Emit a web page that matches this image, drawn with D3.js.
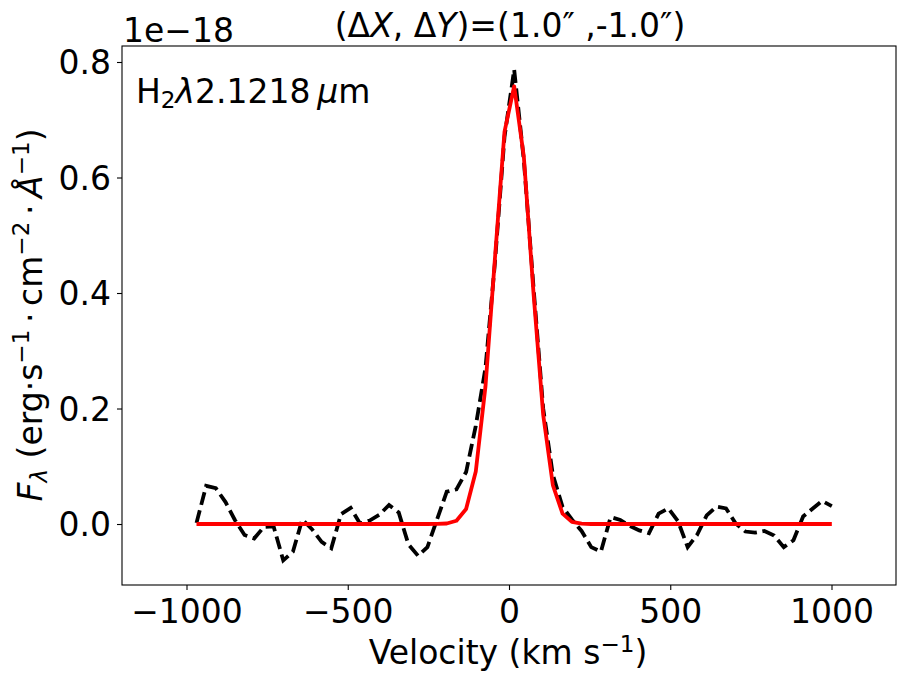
<!DOCTYPE html>
<html>
<head>
<meta charset="utf-8">
<script src="https://cdn.jsdelivr.net/npm/d3@7"></script>
<style>
  html, body { margin: 0; padding: 0; background: #fff; }
  svg { display: block; font-family: "DejaVu Sans", sans-serif; }
</style>
</head>
<body>
<svg id="chart" width="909" height="685"></svg>
<script>
// ---- data ----
const velocity = [-969, -939, -909, -879, -850, -820, -790, -760, -730, -700,
  -670, -641, -611, -581, -551, -521, -491, -462, -432, -402,
  -372, -342, -312, -282, -253, -223, -193, -163, -133, -103,
  -73, -44, -14, 16, 46, 76, 106, 136, 166, 195,
  225, 255, 285, 315, 345, 374, 404, 434, 464, 494,
  524, 554, 583, 613, 643, 673, 703, 733, 763, 792,
  822, 852, 882, 912, 942, 971, 1001];

const observed = [0.002, 0.066, 0.062, 0.038, 0.007, -0.019, -0.025, -0.005, -0.004, -0.063,
  -0.048, 0.008, -0.009, -0.031, -0.042, 0.017, 0.028, 0.001, 0.006, 0.016,
  0.033, 0.020, -0.035, -0.055, -0.040, 0.008, 0.056, 0.060, 0.090, 0.170,
  0.270, 0.450, 0.670, 0.787, 0.630, 0.410, 0.200, 0.085, 0.030, 0.008,
  -0.012, -0.040, -0.048, 0.012, 0.007, -0.003, -0.011, -0.016, 0.018, 0.027,
  0.005, -0.040, -0.019, 0.015, 0.030, 0.027, 0.001, -0.013, -0.015, -0.012,
  -0.020, -0.040, -0.028, 0.013, 0.027, 0.040, 0.031];

const model = [0, 0, 0, 0, 0, 0, 0, 0, 0, 0,
  0, 0, 0, 0, 0, 0, 0, 0, 0, 0,
  0, 0, 0, 0, 0, 0.0001, 0.0009, 0.0057, 0.026, 0.091,
  0.238, 0.457, 0.679, 0.758, 0.636, 0.400, 0.189, 0.0675, 0.018, 0.0038,
  0.0006, 0, 0, 0, 0, 0, 0, 0, 0, 0,
  0, 0, 0, 0, 0, 0, 0, 0, 0, 0,
  0, 0, 0, 0, 0, 0, 0];

const xTicks = [-1000, -500, 0, 500, 1000];
const yTicks = [0.0, 0.2, 0.4, 0.6, 0.8];
const xDomain = [-1200, 1200];
const yDomain = [-0.1056, 0.8277];

// ---- layout ----
const L = 122, R = 896, T = 46, B = 585;
const FS = 33;
const svg = d3.select("#chart");

const x = d3.scaleLinear().domain(xDomain).range([L, R]);
const y = d3.scaleLinear().domain(yDomain).range([B, T]);

const minus = s => s.replace("-", "\u2212");

// axes
const xAxis = d3.axisBottom(x).tickValues(xTicks).tickSize(5).tickPadding(5)
  .tickFormat(d => minus(d3.format("d")(d)));
const yAxis = d3.axisLeft(y).tickValues(yTicks).tickSize(5).tickPadding(6)
  .tickFormat(d => d3.format(".1f")(d));

const gx = svg.append("g").attr("transform", `translate(0,${B})`).call(xAxis);
const gy = svg.append("g").attr("transform", `translate(${L},0)`).call(yAxis);
[gx, gy].forEach(g => {
  g.select(".domain").remove();
  g.selectAll("line").attr("stroke", "#000").attr("stroke-width", 1.1);
  g.selectAll("text").attr("font-size", FS).attr("font-family", "DejaVu Sans").attr("fill", "#000");
});
gx.selectAll("text").attr("dy", null).attr("y", 38);
gy.selectAll("text").attr("dy", "0.36em");

// lines
const lineGen = arr => d3.line().x((d, i) => x(velocity[i])).y(d => y(d))(arr);

svg.append("clipPath").attr("id", "clip")
  .append("rect").attr("x", L).attr("y", T).attr("width", R - L).attr("height", B - T);

const plot = svg.append("g").attr("clip-path", "url(#clip)");
plot.append("path").attr("d", lineGen(observed))
  .attr("fill", "none").attr("stroke", "#000").attr("stroke-width", 3.8)
  .attr("stroke-dasharray", "13,5.6");
plot.append("path").attr("d", lineGen(model))
  .attr("fill", "none").attr("stroke", "#ff0000").attr("stroke-width", 3.8)
  .attr("stroke-linejoin", "round");

// frame
svg.append("rect").attr("x", L).attr("y", T).attr("width", R - L).attr("height", B - T)
  .attr("fill", "none").attr("stroke", "#000").attr("stroke-width", 1.1);

// helper for rich text
function rich(sel, parts) {
  parts.forEach(p => {
    const t = sel.append("tspan").text(p.t);
    if (p.i) t.attr("font-style", "italic");
    if (p.s) t.attr("font-size", FS * 0.7);
    if (p.dy) t.attr("dy", p.dy);
  });
}

// offset text
svg.append("text").attr("x", 123).attr("y", 42).attr("font-size", FS).text("1e\u221218");

// title
const title = svg.append("text").attr("x", 510).attr("y", 37).attr("font-size", FS)
  .attr("text-anchor", "middle");
rich(title, [
  {t: "(\u0394"}, {t: "X", i: 1}, {t: ", \u0394"}, {t: "Y", i: 1},
  {t: ")=(1.0\u2033 ,-1.0\u2033)"}
]);

// annotation
const ann = svg.append("text").attr("x", 136).attr("y", 103).attr("font-size", FS);
rich(ann, [
  {t: "H"}, {t: "2", s: 1, dy: 5}, {t: "\u03bb", i: 1, dy: -5}, {t: "2.1218\u2009"},
  {t: "\u03bc", i: 1}, {t: "m"}
]);

// x label
const xl = svg.append("text").attr("x", 508).attr("y", 664).attr("font-size", FS)
  .attr("text-anchor", "middle");
rich(xl, [
  {t: "Velocity (km s"}, {t: "\u22121", s: 1, dy: -12}, {t: ")", dy: 12}
]);

// y label
const yl = svg.append("text").attr("transform", "translate(42,315) rotate(-90)")
  .attr("font-size", FS).attr("text-anchor", "middle");
rich(yl, [
  {t: "F", i: 1}, {t: "\u03bb", i: 1, s: 1, dy: 5}, {t: " (erg\u00b7s", dy: -5},
  {t: "\u22121", s: 1, dy: -13}, {t: "\u2009\u00b7\u2009cm", dy: 13},
  {t: "\u22122", s: 1, dy: -13}, {t: "\u2009\u00b7\u2009", dy: 13}, {t: "\u00c5", i: 1},
  {t: "\u22121", s: 1, dy: -13}, {t: ")", dy: 13}
]);
</script>
</body>
</html>
